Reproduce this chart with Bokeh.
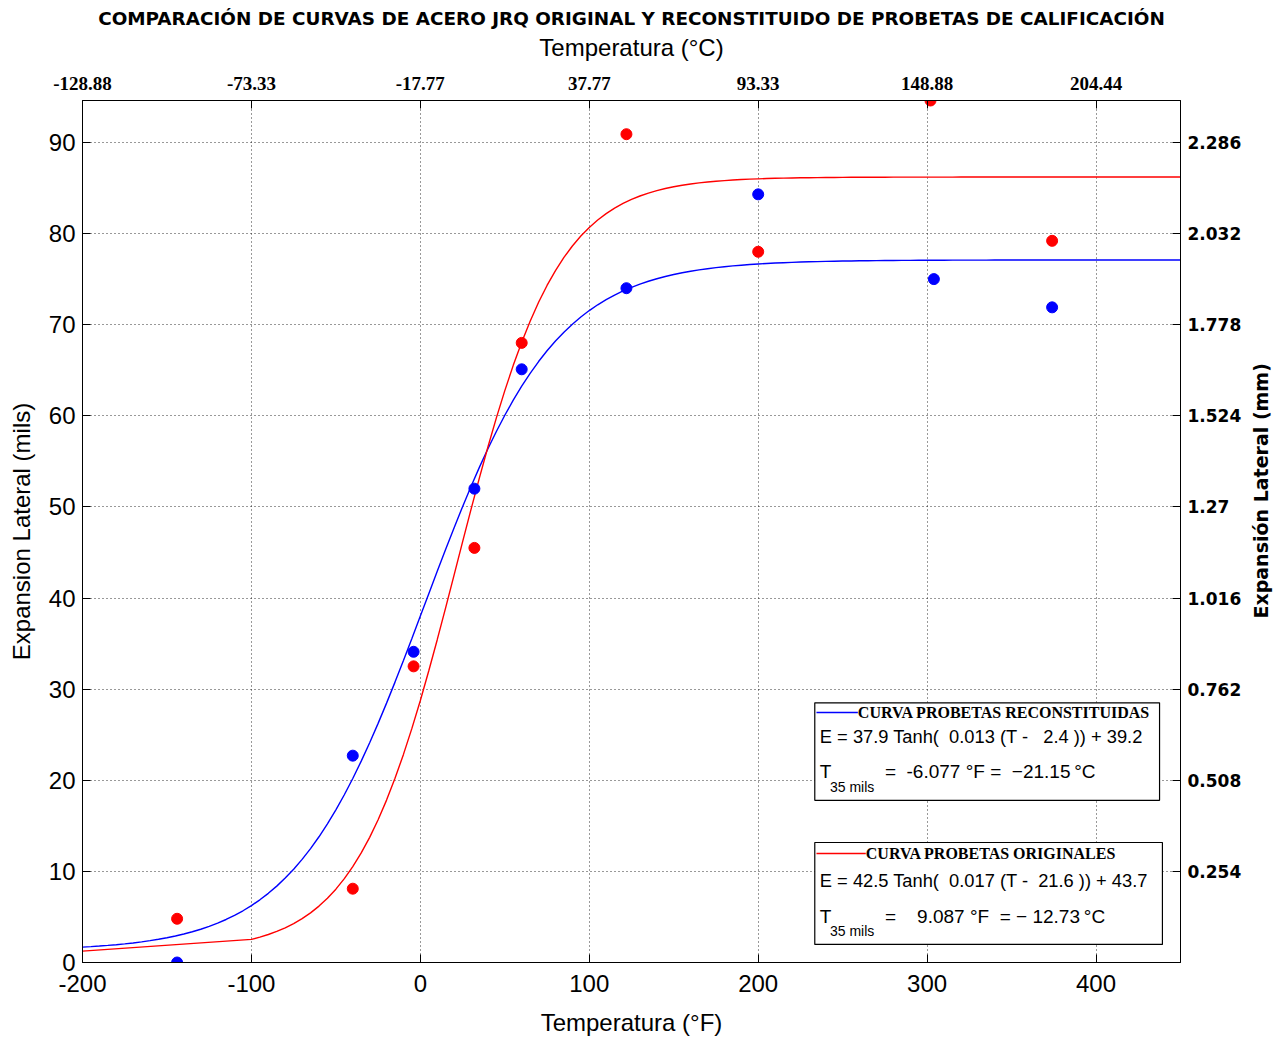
import math
import numpy as np
from bokeh.plotting import figure
from bokeh.models import (LinearAxis, FixedTicker, Range1d, BoxAnnotation, Label, Arrow)
from bokeh.embed import file_html
from bokeh.resources import INLINE

# ---------------- data ----------------
x_ticks = [-200, -100, 0, 100, 200, 300, 400]
x_ticks_f = ["-200", "-100", "0", "100", "200", "300", "400"]
x_ticks_c = ["-128.88", "-73.33", "-17.77", "37.77", "93.33", "148.88", "204.44"]
y_ticks = [0, 10, 20, 30, 40, 50, 60, 70, 80, 90]
y_ticks_mm = ["", "0.254", "0.508", "0.762", "1.016", "1.27", "1.524", "1.778", "2.032", "2.286"]

temp_recon = [-144, -40, -4, 32, 60, 122, 200, 304, 374]
exp_recon = [0.0, 22.7, 34.1, 52.0, 65.1, 74.0, 84.3, 75.0, 71.9]
temp_orig = [-144, -40, -4, 32, 60, 122, 200, 302, 374]
exp_orig = [4.8, 8.1, 32.5, 45.5, 68.0, 90.9, 78.0, 94.6, 79.2]

# fit parameters shown in the chart: E = A*tanh(B*(T - C)) + D
fit_recon = dict(A=37.9, B=0.013, C=2.4, D=39.2)
fit_orig = dict(A=42.5, B=0.017, C=21.6, D=43.7)

X_MIN, X_MAX = -200, 450
Y_MIN, Y_MAX = 0, 94.6


def tanh_curve(T, f):
    T = np.asarray(T, dtype=float)
    return f["A"] * np.tanh(f["B"] * (T - f["C"])) + f["D"]


T_recon = np.arange(X_MIN, X_MAX + 1, 5)
T_orig = np.concatenate([[X_MIN], np.arange(-100, X_MAX + 1, 5)])

NB = "\u00a0"

# ---------------- figure ----------------
p = figure(frame_width=1098, frame_height=862,
           x_range=Range1d(X_MIN, X_MAX), y_range=Range1d(Y_MIN, Y_MAX),
           output_backend="svg", toolbar_location=None,
           min_border_left=82, min_border_right=94, min_border_top=100, min_border_bottom=72,
           background_fill_color="white", border_fill_color="white")

p.outline_line_color = "black"
p.outline_line_width = 1

# title
p.title.text = "COMPARACIÓN DE CURVAS DE ACERO JRQ ORIGINAL Y RECONSTITUIDO DE PROBETAS DE CALIFICACIÓN"
p.title.align = "center"
p.title.text_font = "DejaVu Sans"
p.title.text_font_size = "18.4px"
p.title.text_font_style = "bold"
p.title.text_color = "black"
p.title.standoff = 4

# grids
for g in (p.xgrid, p.ygrid):
    g.grid_line_color = "black"
    g.grid_line_alpha = 0.8
    g.grid_line_dash = "1 3"
    g.grid_line_width = 1
p.xgrid.ticker = FixedTicker(ticks=x_ticks)
p.ygrid.ticker = FixedTicker(ticks=y_ticks)


def style_axis(ax, font, size, bold=False):
    ax.axis_line_color = "black"
    ax.major_tick_line_color = "black"
    ax.major_tick_in = 8
    ax.major_tick_out = 0
    ax.minor_tick_line_color = None
    ax.major_label_text_font = font
    ax.major_label_text_font_size = size
    ax.major_label_text_color = "black"
    ax.major_label_text_font_style = "bold" if bold else "normal"
    ax.axis_label_text_color = "black"


# bottom axis
xb = p.xaxis[0]
xb.ticker = FixedTicker(ticks=x_ticks)
xb.major_label_overrides = {t: s for t, s in zip(x_ticks, x_ticks_f)}
style_axis(xb, "Liberation Sans", "24px")
xb.major_label_standoff = 12
xb.axis_label = "Temperatura (°F)"
xb.axis_label_text_font = "Liberation Sans"
xb.axis_label_text_font_size = "24px"
xb.axis_label_text_font_style = "normal"
xb.axis_label_standoff = 14

# left axis
yl = p.yaxis[0]
yl.ticker = FixedTicker(ticks=y_ticks)
style_axis(yl, "Liberation Sans", "24px")
yl.major_label_standoff = 7
yl.axis_label = "Expansion Lateral (mils)"
yl.axis_label_text_font = "Liberation Sans"
yl.axis_label_text_font_size = "24px"
yl.axis_label_text_font_style = "normal"
yl.axis_label_standoff = 11

# top axis (°C)
xt = LinearAxis(ticker=FixedTicker(ticks=x_ticks),
                major_label_overrides={t: s for t, s in zip(x_ticks, x_ticks_c)})
style_axis(xt, "Liberation Serif", "19px", bold=True)
xt.major_label_standoff = 11
xt.axis_label = "Temperatura (°C)"
xt.axis_label_text_font = "Liberation Sans"
xt.axis_label_text_font_size = "24px"
xt.axis_label_text_font_style = "normal"
xt.axis_label_standoff = 13
p.add_layout(xt, "above")

# right axis (mm) - ticks and labels
yr = LinearAxis(ticker=FixedTicker(ticks=y_ticks[1:]),
                major_label_overrides={t: s for t, s in zip(y_ticks[1:], y_ticks_mm[1:])})
style_axis(yr, "DejaVu Sans", "17px", bold=True)
yr.major_label_standoff = 7
p.add_layout(yr, "right")

# right axis title (a tick-less axis carrying only the title, reading bottom-to-top)
right_title = "Expansión Lateral (mm)"
yr2 = LinearAxis(ticker=FixedTicker(ticks=[]))
yr2.axis_line_color = None
yr2.major_tick_line_color = None
yr2.minor_tick_line_color = None
if "axis_label_align" in LinearAxis.properties():
    yr2.axis_label_align = "start"
    right_title = NB * 52 + right_title
yr2.axis_label = right_title
yr2.axis_label_text_font = "DejaVu Sans"
yr2.axis_label_text_font_size = "19px"
yr2.axis_label_text_font_style = "bold"
yr2.axis_label_text_color = "black"
yr2.axis_label_orientation = math.pi / 2
yr2.axis_label_standoff = 16
p.add_layout(yr2, "right")

# curves
p.line(T_recon, tanh_curve(T_recon, fit_recon), line_color="#0000FF", line_width=1.4)
p.line(T_orig, tanh_curve(T_orig, fit_orig), line_color="#FF0000", line_width=1.4)

# points
p.scatter(temp_orig, exp_orig, size=11, fill_color="#FF0000", line_color="#FF0000")
p.scatter(temp_recon, exp_recon, size=11, fill_color="#0000FF", line_color="#0000FF")


# legend boxes (annotations, positioned in data units)
def legend_box(top, bottom, right, color, name, eq, t35, y1, y2, y3, ysub, name_x):
    p.add_layout(BoxAnnotation(left=233.5, right=right, top=top, bottom=bottom,
                               fill_color="white", fill_alpha=1.0,
                               line_color="black", line_width=1.2, line_alpha=1.0))
    p.add_layout(Arrow(end=None, x_start=234.5, x_end=name_x, y_start=y1, y_end=y1,
                       line_color=color, line_width=1.6))
    p.add_layout(Label(x=name_x, y=y1, text=name, text_font="Liberation Serif",
                       text_font_size="16px", text_font_style="bold",
                       text_baseline="middle", text_align="left", text_color="black"))
    p.add_layout(Label(x=236.5, y=y2, text=eq, text_font="Liberation Sans",
                       text_font_size="18.3px", text_baseline="middle", text_align="left",
                       text_color="black"))
    p.add_layout(Label(x=236.5, y=y3, text="T", text_font="Liberation Sans",
                       text_font_size="19px", text_baseline="middle", text_align="left",
                       text_color="black"))
    p.add_layout(Label(x=242.5, y=ysub, text="35 mils", text_font="Liberation Sans",
                       text_font_size="14px", text_baseline="middle", text_align="left",
                       text_color="black"))
    p.add_layout(Label(x=275.0, y=y3, text=t35, text_font="Liberation Sans",
                       text_font_size="19px", text_baseline="middle", text_align="left",
                       text_color="black"))


legend_box(28.5, 17.8, 437.6, "#0000FF", "CURVA PROBETAS RECONSTITUIDAS",
           "E = 37.9 Tanh(" + NB * 2 + "0.013 (T -" + NB * 3 + "2.4 )) + 39.2",
           "=" + NB * 2 + "-6.077 °F =" + NB * 2 + "\u221221.15\u2009°C",
           27.44, 24.8, 20.96, 19.3, 259.0)
legend_box(13.17, 1.98, 439.3, "#FF0000", "CURVA PROBETAS ORIGINALES",
           "E = 42.5 Tanh(" + NB * 2 + "0.017 (T -" + NB * 2 + "21.6 )) + 43.7",
           "=" + NB * 4 + "9.087 °F" + NB * 2 + "= \u2212 12.73\u2009°C",
           11.96, 9.0, 5.05, 3.51, 263.7)

open("out.html", "w").write(file_html(p, INLINE))
